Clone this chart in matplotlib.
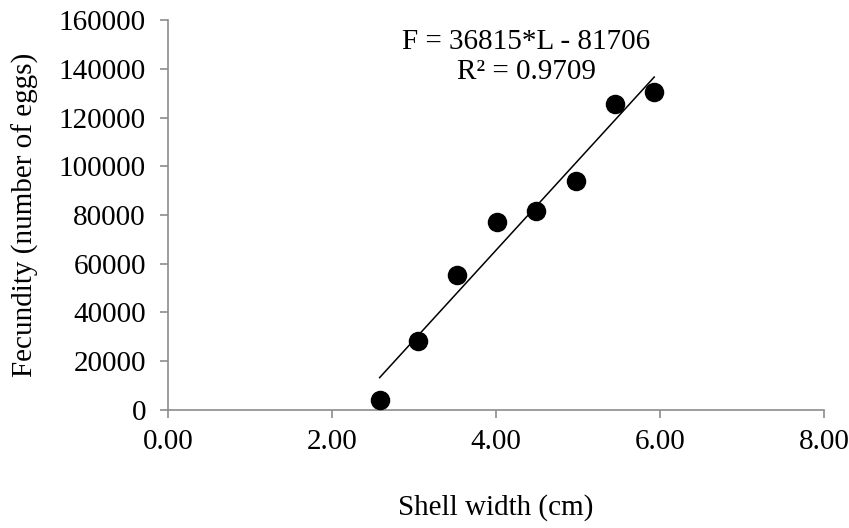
import numpy as np
import matplotlib.pyplot as plt

plt.rcParams['font.family'] = ['Liberation Serif', 'DejaVu Serif']

shell_width = [2.58, 3.05, 3.53, 4.01, 4.49, 4.97, 5.45, 5.93]
fecundity = [4300, 28500, 55500, 77200, 81500, 94000, 125700, 130500]
slope = 36815
intercept = -81706
x_ticks = [0, 2, 4, 6, 8]
y_ticks = [0, 20000, 40000, 60000, 80000, 100000, 120000, 140000, 160000]

fig = plt.figure(figsize=(8.49, 5.28), dpi=100)
ax = fig.add_axes([0.198, 0.2235, 0.7725, 0.7386])

xs = np.array([min(shell_width), max(shell_width)])
ax.plot(xs, slope * xs + intercept, color='black', lw=1.1, zorder=2)
ax.scatter(shell_width, fecundity, s=170, color='black', zorder=3)

ax.set_xlim(0, 8)
ax.set_ylim(0, 160000)
ax.set_xticks(x_ticks)
ax.set_xticklabels([f'{v:.2f}' for v in x_ticks])
ax.set_yticks(y_ticks)
ax.set_yticklabels([str(v) for v in y_ticks])

for s in ['top', 'right']:
    ax.spines[s].set_visible(False)
for s in ['left', 'bottom']:
    ax.spines[s].set_color('#8c8c8c')
    ax.spines[s].set_linewidth(1.2)
ax.tick_params(colors='#8c8c8c', labelcolor='black', labelsize=21, length=6, width=1.2)
ax.tick_params(axis='y', pad=10)
ax.tick_params(axis='x', pad=8)

ax.set_xlabel('Shell width (cm)', fontsize=21, labelpad=28)
ax.set_ylabel('Fecundity (number of eggs)', fontsize=21, labelpad=14)

ax.text(0.546, 0.944, 'F = 36815*L - 81706', transform=ax.transAxes,
        ha='center', va='center', fontsize=21)
ax.text(0.546, 0.867, 'R² = 0.9709', transform=ax.transAxes,
        ha='center', va='center', fontsize=21)

fig.savefig('out.png', dpi=100)
